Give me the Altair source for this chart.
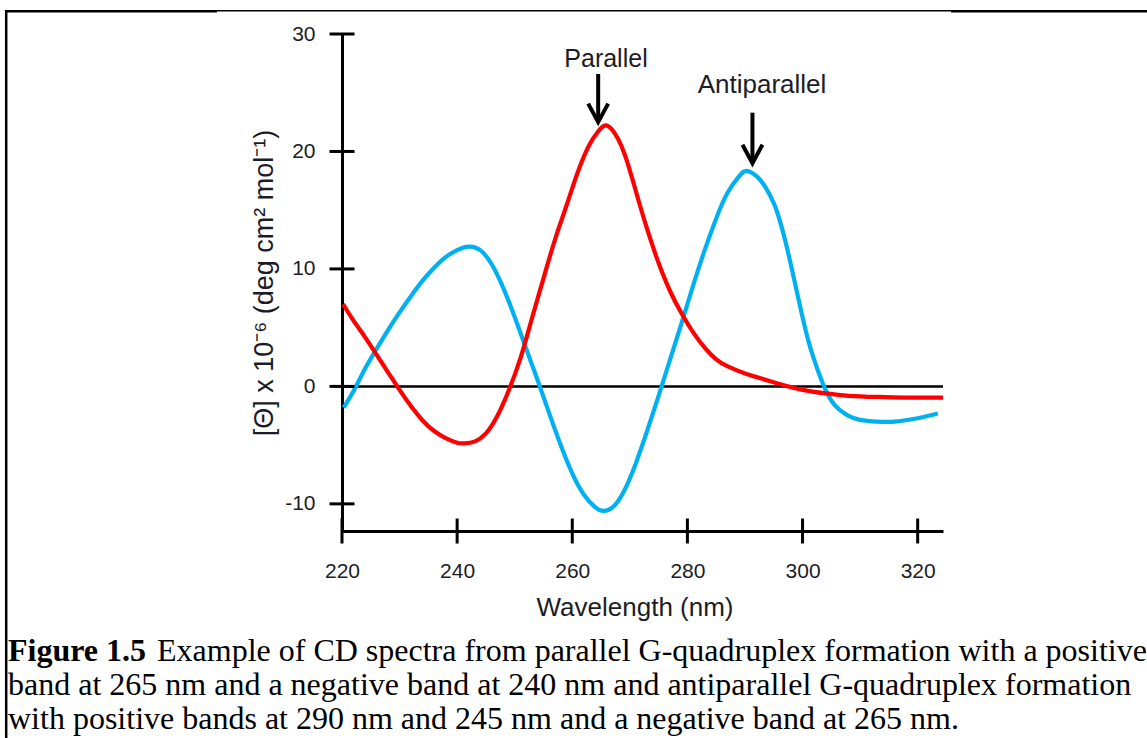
import altair as alt
import pandas as pd

# ---------------- data ----------------
# Antiparallel G-quadruplex (blue)
wl_anti = [220.3, 222, 224, 226, 228, 230, 232, 234, 236, 238, 240, 242, 244, 246, 248,
           250, 252, 254, 256, 258, 260, 262, 264, 265.3, 267, 269, 271, 273, 275, 277,
           279, 281, 283, 285, 287, 289, 290.3, 292, 293.5, 295, 296, 297, 298, 299, 300,
           301, 302, 303, 304, 305, 306, 307, 308, 310, 313, 316, 319, 321, 323.5]
cd_anti = [-1.8, -0.4, 1.5, 3.2, 4.8, 6.3, 7.7, 9.0, 10.1, 11.0, 11.6, 11.9, 11.6, 10.4, 8.4,
           5.9, 3.2, 0.5, -2.3, -5.0, -7.4, -9.2, -10.3, -10.6, -10.3, -8.9, -6.6, -3.8, -0.8, 2.3,
           5.4, 8.6, 11.6, 14.3, 16.5, 17.9, 18.35, 17.9, 17.0, 15.6, 14.2, 12.4, 10.3, 8.1, 5.9,
           3.9, 2.3, 0.9, -0.3, -1.2, -1.8, -2.2, -2.5, -2.85, -3.0, -3.0, -2.8, -2.6, -2.3]

# Parallel G-quadruplex (red)
wl_par = [220.2, 222, 224, 226, 228, 230, 232, 234, 236, 238, 240, 241.3, 243, 245, 247,
          249, 251, 253, 255, 257, 259, 261, 263, 264.5, 265.6, 267, 269, 271, 273, 275,
          277, 279, 281, 283, 285, 287, 290, 293, 296, 300, 304, 308, 313, 318, 324.4]
cd_par = [7.0, 5.6, 4.2, 2.7, 1.2, -0.3, -1.7, -2.9, -3.8, -4.4, -4.8, -4.85, -4.7, -4.0, -2.5,
          -0.3, 2.4, 5.8, 9.2, 12.5, 15.4, 18.3, 20.6, 21.7, 22.2, 21.8, 19.9, 16.7, 13.4, 10.5,
          8.1, 6.2, 4.6, 3.3, 2.3, 1.7, 1.1, 0.65, 0.2, -0.3, -0.6, -0.8, -0.9, -0.95, -0.95]

x_ticks = [220, 240, 260, 280, 300, 320]
y_ticks = [-10, 0, 10, 20, 30]

# arrows (wavelength, top of shaft, tip) in data units
arrow_x = [264.5, 291.3]
arrow_top = [26.6, 23.3]
arrow_tip = [22.2, 18.7]

label_parallel = "Parallel"
label_anti = "Antiparallel"
x_title = "Wavelength (nm)"
y_title = "[Θ] x 10⁻⁶ (deg cm² mol⁻¹)"
cap_bold = "Figure 1.5"
cap_1 = "Example of CD spectra from parallel G-quadruplex formation with a positive"
cap_2 = "band at 265 nm and a negative band at 240 nm and antiparallel G-quadruplex formation"
cap_3 = "with positive bands at 290 nm and 245 nm and a negative band at 265 nm."

# ---------------- layout ----------------
X_DOMAIN = [220, 324.4]
Y_DOMAIN = [-12.31, 30]
W, H = 601, 497
PAD_L, PAD_T = 342, 34

FONT = "Liberation Sans"
SERIF = "Liberation Serif"
TXT = "#1c1c28"
BLUE = "#00B0F0"
RED = "#FF0000"

xsc = alt.Scale(domain=X_DOMAIN, nice=False, zero=False)
ysc = alt.Scale(domain=Y_DOMAIN, nice=False, zero=False)

x_axis = alt.Axis(values=x_ticks, ticks=False, tickSize=0, domainColor="black", domainWidth=3,
                  labelFont=FONT, labelFontSize=21, labelColor=TXT, labelPadding=29,
                  labelExpr="'' + datum.value",
                  grid=False, title=None, labelFlush=False, labelOverlap=False)
y_axis = alt.Axis(values=y_ticks, ticks=False, tickSize=0, domainColor="black", domainWidth=3,
                  labelFont=FONT, labelFontSize=21, labelColor=TXT, labelPadding=27,
                  labelExpr="'' + datum.value",
                  grid=False, title=None, labelOverlap=False)

anti = pd.DataFrame({"wl": wl_anti, "cd": cd_anti})
par = pd.DataFrame({"wl": wl_par, "cd": cd_par})
one = pd.DataFrame({"z": [0]})

zero = alt.Chart(one).mark_rule(color="black", strokeWidth=2.5).encode(
    y=alt.Y("z:Q", scale=ysc, axis=y_axis))

blue = alt.Chart(anti).mark_line(color=BLUE, strokeWidth=4.2, interpolate="natural").encode(
    x=alt.X("wl:Q", scale=xsc, axis=x_axis), y=alt.Y("cd:Q", scale=ysc, axis=y_axis), order="wl:Q")
red = alt.Chart(par).mark_line(color=RED, strokeWidth=4.2, interpolate="natural").encode(
    x=alt.X("wl:Q", scale=xsc, axis=x_axis), y=alt.Y("cd:Q", scale=ysc, axis=y_axis), order="wl:Q")

xt = alt.Chart(pd.DataFrame({"t": x_ticks})).mark_tick(
    orient="vertical", size=25, thickness=3, color="black", opacity=1).encode(
    x=alt.X("t:Q", scale=xsc, axis=x_axis), y=alt.value(H))
yt = alt.Chart(pd.DataFrame({"t": y_ticks})).mark_tick(
    orient="horizontal", size=25, thickness=3, color="black", opacity=1).encode(
    y=alt.Y("t:Q", scale=ysc, axis=y_axis), x=alt.value(0))

arr = pd.DataFrame({"x": arrow_x, "top": arrow_top, "tip": arrow_tip})
arr["shaft_end"] = arr["tip"] + 0.6
shaft = alt.Chart(arr).mark_rule(color="black", strokeWidth=4).encode(
    x=alt.X("x:Q", scale=xsc, axis=x_axis), y=alt.Y("top:Q", scale=ysc, axis=y_axis), y2="shaft_end:Q")
head = alt.Chart(arr).mark_point(shape="M-1,-2.2L0,-0.35L1,-2.2", size=400, filled=False,
                                 strokeWidth=4, color="black", opacity=1, strokeJoin="miter").encode(
    x=alt.X("x:Q", scale=xsc, axis=x_axis), y=alt.Y("tip:Q", scale=ysc, axis=y_axis))


def txt(text, x, y, size, font=FONT, align="center", weight="normal", angle=0, color=TXT):
    kw = dict(text=text, font=font, fontSize=size, align=align, baseline="alphabetic",
              fontWeight=weight, color=color)
    if angle:
        kw["angle"] = angle
    return alt.Chart(one).mark_text(**kw).encode(x=alt.value(x), y=alt.value(y))


def hline(x1, x2, y, w):
    return alt.Chart(one).mark_rule(color="black", strokeWidth=w).encode(
        x=alt.value(x1 - PAD_L), x2=alt.value(x2 - PAD_L), y=alt.value(y - PAD_T))


def vline(x, y1, y2, w):
    return alt.Chart(one).mark_rule(color="black", strokeWidth=w).encode(
        x=alt.value(x - PAD_L), y=alt.value(y1 - PAD_T), y2=alt.value(y2 - PAD_T))


texts = [
    txt(label_parallel, 606 - PAD_L, 67 - PAD_T, 25),
    txt(label_anti, 762 - PAD_L, 93 - PAD_T, 26),
    txt(x_title, 635 - PAD_L, 616 - PAD_T, 26),
    txt(y_title, 273 - PAD_L, 283 - PAD_T, 27, angle=270),
    txt(cap_bold, 8 - PAD_L, 661 - PAD_T, 32, font=SERIF, align="left", weight="bold", color="black"),
    txt(cap_1, 157 - PAD_L, 661 - PAD_T, 32, font=SERIF, align="left", color="black"),
    txt(cap_2, 8 - PAD_L, 695 - PAD_T, 32, font=SERIF, align="left", color="black"),
    txt(cap_3, 8 - PAD_L, 729 - PAD_T, 32, font=SERIF, align="left", color="black"),
]

borders = [
    hline(6, 217, 11.25, 2.6),
    hline(217, 951, 10.75, 1.5),
    hline(951, 1147, 11.25, 2.6),
    vline(6.2, 10, 738, 2.5),
]

chart = alt.layer(zero, blue, red, xt, yt, shaft, head, *texts, *borders).properties(
    width=W, height=H,
    autosize=alt.AutoSizeParams(type="none"),
    padding={"left": PAD_L, "top": PAD_T, "right": 1147 - PAD_L - W, "bottom": 738 - PAD_T - H},
    background="white",
).configure_view(stroke=None)

chart.save("out.html", embed_options={"renderer": "svg", "actions": False})
